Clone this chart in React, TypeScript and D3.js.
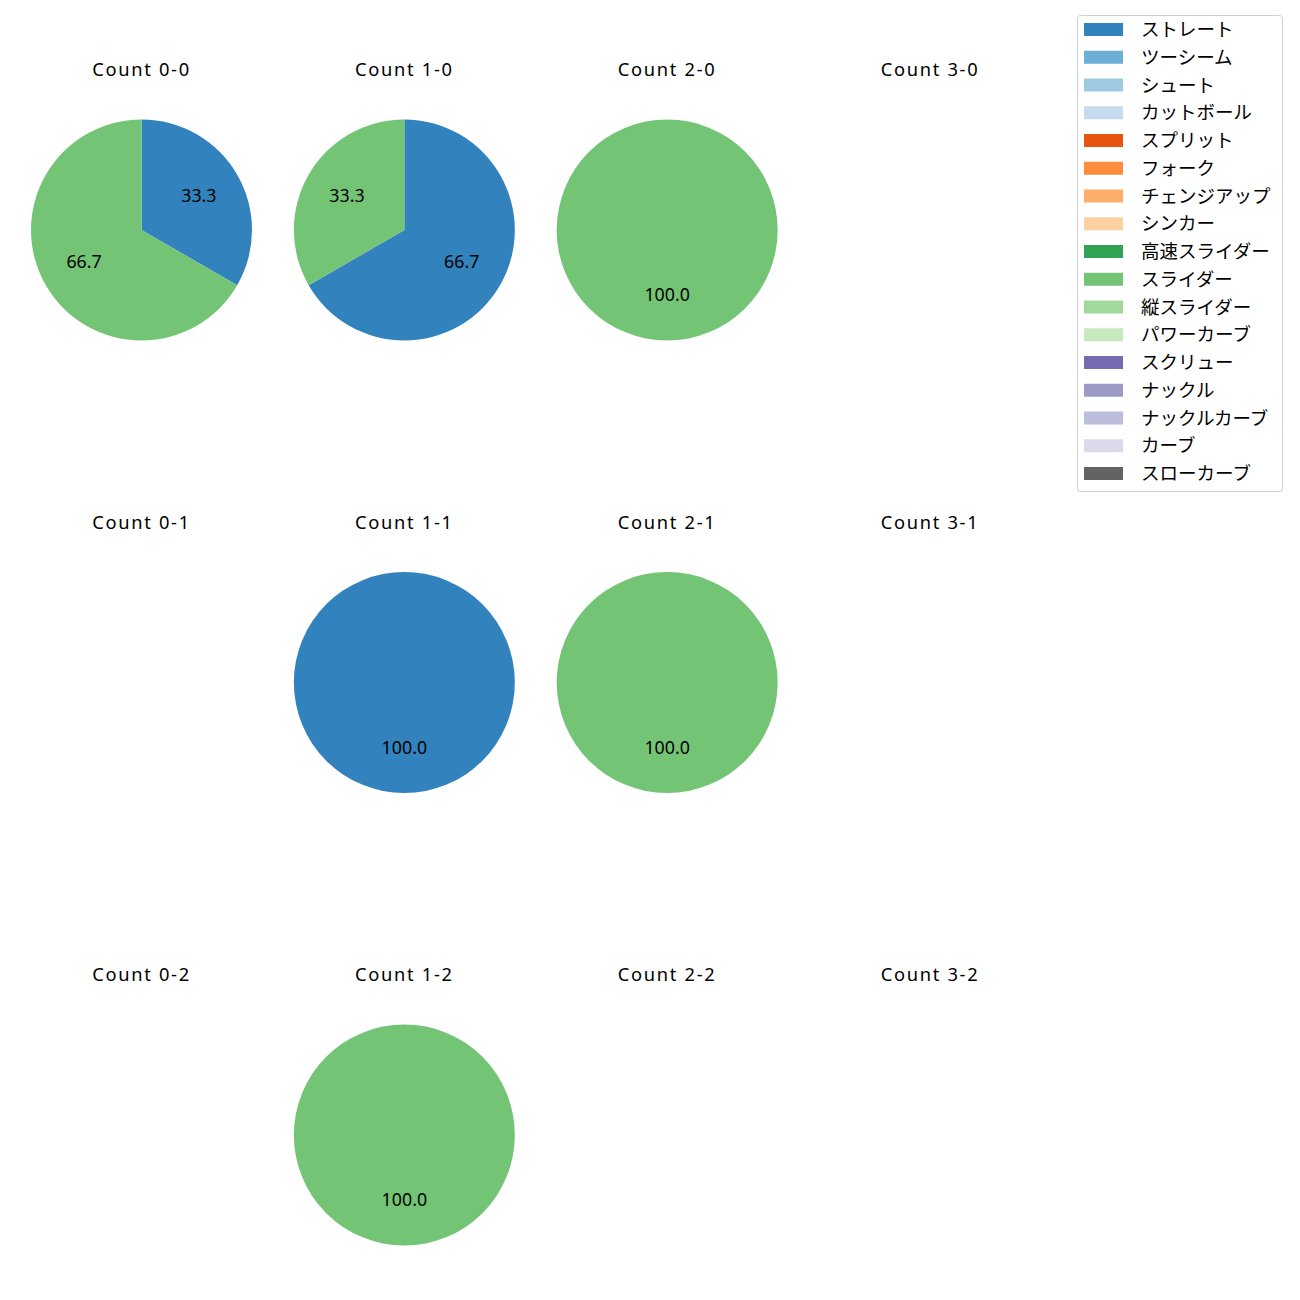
import React from "react";
import * as d3 from "d3";

// pitch types and their tab20c colours
const pitchTypes = [
  "ストレート", "ツーシーム", "シュート", "カットボール", "スプリット", "フォーク",
  "チェンジアップ", "シンカー", "高速スライダー", "スライダー", "縦スライダー",
  "パワーカーブ", "スクリュー", "ナックル", "ナックルカーブ", "カーブ", "スローカーブ",
];
const pitchColors = [
  "#3182bd", "#6baed6", "#9ecae1", "#c6dbef", "#e6550d", "#fd8d3c",
  "#fdae6b", "#fdd0a2", "#31a354", "#74c476", "#a1d99b", "#c7e9c0",
  "#756bb1", "#9e9ac8", "#bcbddc", "#dadaeb", "#636363",
];

// panels: balls across, strikes down
const balls = [0, 1, 2, 3];
const strikes = [0, 1, 2];

// pitch counts per panel, row-major (strikes 0..2, balls 0..3)
const straightCounts = [1, 2, 0, 0, 0, 1, 0, 0, 0, 0, 0, 0];
const sliderCounts = [2, 1, 1, 0, 0, 0, 1, 0, 0, 1, 0, 0];

const LATIN = "'Noto Sans', 'Noto Sans CJK JP', sans-serif";
const CJK = "'Noto Sans CJK JP', 'Noto Sans', sans-serif";

type Slice = { name: string; value: number };

const App = () => {
  const W = 1300;
  const H = 1300;
  const r = 110.5;

  const cx = d3.scalePoint<number>().domain(balls).range([141.5, 930]);
  const cy = d3.scalePoint<number>().domain(strikes).range([230, 1135]);
  const color = d3.scaleOrdinal<string, string>().domain(pitchTypes).range(pitchColors);

  const pie = d3
    .pie<Slice>()
    .sort(null)
    .value((d) => d.value)
    .startAngle(0)
    .endAngle(2 * Math.PI);
  const arc = d3.arc<d3.PieArcDatum<Slice>>().innerRadius(0).outerRadius(r);
  const labelArc = d3.arc<d3.PieArcDatum<Slice>>().innerRadius(r * 0.6).outerRadius(r * 0.6);

  const panels = strikes.flatMap((s, si) =>
    balls.map((b, bi) => {
      const i = si * balls.length + bi;
      const data = [
        { name: "ストレート", value: straightCounts[i] },
        { name: "スライダー", value: sliderCounts[i] },
      ].filter((d) => d.value > 0);
      return { b, s, data };
    })
  );

  const legendY = d3.scaleLinear().domain([0, pitchTypes.length - 1]).range([29.5, 473.5]);

  return (
    <svg width={W} height={H} style={{ display: "block", margin: "-8px" }}>
      <rect width={W} height={H} fill="#fff" />
      {panels.map(({ b, s, data }) => {
        const total = d3.sum(data, (d) => d.value);
        const arcs = pie(data);
        return (
          <g key={`${b}-${s}`} transform={`translate(${cx(b)},${cy(s)})`}>
            <text
              x={0}
              y={-154}
              textAnchor="middle"
              fontFamily={LATIN}
              fontSize={18.3}
              letterSpacing={1.7}
              fill="#000"
            >
              {`Count ${b}-${s}`}
            </text>
            {arcs.map((a) => (
              <path key={a.data.name} d={arc(a) || ""} fill={color(a.data.name)} />
            ))}
            {arcs.map((a) => {
              const [lx, ly] = labelArc.centroid(a);
              return (
                <text
                  key={a.data.name + "-l"}
                  x={lx}
                  y={ly}
                  dy="0.28em"
                  textAnchor="middle"
                  fontFamily={LATIN}
                  fontSize={17.8}
                  fill="#000"
                >
                  {((a.data.value / total) * 100).toFixed(1)}
                </text>
              );
            })}
          </g>
        );
      })}
      <g>
        <rect x={1077.5} y={15.5} width={205} height={476} rx={3} fill="#fff" stroke="#d0d0d0" />
        {pitchTypes.map((p, i) => (
          <g key={p} transform={`translate(0,${legendY(i)})`}>
            <rect x={1084} y={-6.5} width={39} height={13} fill={color(p)} />
            <text x={1141} y={0} dy="0.36em" fontFamily={CJK} fontSize={18.5} fill="#000">
              {p}
            </text>
          </g>
        ))}
      </g>
    </svg>
  );
};

export default App;
